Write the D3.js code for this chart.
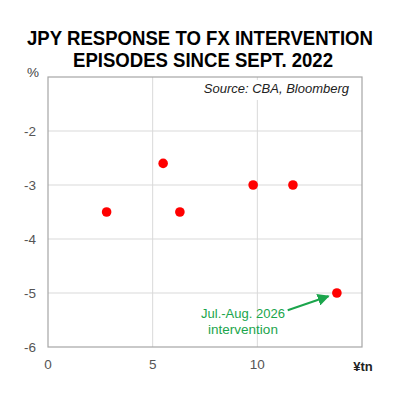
<!DOCTYPE html>
<html>
<head>
<meta charset="utf-8">
<script src="https://cdn.jsdelivr.net/npm/d3@7"></script>
<style>
  body { margin: 0; background: #fff; }
  svg { font-family: "Liberation Sans", Arial, sans-serif; }
</style>
</head>
<body>
<div id="chart"></div>
<script>
// intervention size (¥tn) vs JPY move (%)
const amounts = [2.8, 5.5, 6.3, 9.8, 11.7, 13.8];
const responses = [-3.5, -2.6, -3.5, -3.0, -3.0, -5.0];
const xTicks = [0, 5, 10];
const yTicks = [-2, -3, -4, -5, -6];

const width = 400;
const height = 400;
const margin = { top: 77, right: 38, bottom: 53, left: 48 };

const svg = d3.select('#chart')
  .append('svg')
  .attr('width', width)
  .attr('height', height);

const x = d3.scaleLinear()
  .domain([0, 15])
  .range([margin.left, width - margin.right]);

const y = d3.scaleLinear()
  .domain([-6, -1])
  .range([height - margin.bottom, margin.top]);

// title
svg.append('text')
  .attr('x', 200)
  .attr('y', 45)
  .attr('text-anchor', 'middle')
  .attr('font-size', '19.5px')
  .attr('font-weight', 'bold')
  .attr('textLength', 346)
  .attr('lengthAdjust', 'spacingAndGlyphs')
  .text('JPY RESPONSE TO FX INTERVENTION');
svg.append('text')
  .attr('x', 203)
  .attr('y', 67)
  .attr('text-anchor', 'middle')
  .attr('font-size', '19.5px')
  .attr('font-weight', 'bold')
  .attr('textLength', 260)
  .attr('lengthAdjust', 'spacingAndGlyphs')
  .text('EPISODES SINCE SEPT. 2022');

// grid
svg.append('g')
  .selectAll('line')
  .data([-2, -3, -4, -5])
  .join('line')
    .attr('x1', x(0))
    .attr('x2', x(15))
    .attr('y1', d => y(d))
    .attr('y2', d => y(d))
    .attr('stroke', '#d9d9d9');

svg.append('g')
  .selectAll('line')
  .data([5, 10])
  .join('line')
    .attr('x1', d => x(d))
    .attr('x2', d => x(d))
    .attr('y1', y(-1))
    .attr('y2', y(-6))
    .attr('stroke', '#d9d9d9');

// frame
svg.append('rect')
  .attr('x', x(0))
  .attr('y', y(-1))
  .attr('width', x(15) - x(0))
  .attr('height', y(-6) - y(-1))
  .attr('fill', 'none')
  .attr('stroke', '#a6a6a6')
  .attr('stroke-width', 1.2);

// source label with white box
svg.append('rect')
  .attr('x', 200)
  .attr('y', y(-1) + 3)
  .attr('width', x(15) - 201)
  .attr('height', 20)
  .attr('fill', '#fff');
svg.append('text')
  .attr('x', 349)
  .attr('y', 93)
  .attr('text-anchor', 'end')
  .attr('font-size', '13px')
  .attr('font-style', 'italic')
  .attr('fill', '#222')
  .text('Source: CBA, Bloomberg');

// y axis labels
svg.append('g')
  .selectAll('text')
  .data(yTicks)
  .join('text')
    .attr('x', x(0) - 12)
    .attr('y', d => y(d) + 5)
    .attr('text-anchor', 'end')
    .attr('font-size', '13.5px')
    .attr('fill', '#555')
    .text(d => d);

svg.append('text')
  .attr('x', 33)
  .attr('y', 77)
  .attr('text-anchor', 'middle')
  .attr('font-size', '13.5px')
  .attr('fill', '#444')
  .text('%');

// x axis labels
svg.append('g')
  .selectAll('text')
  .data(xTicks)
  .join('text')
    .attr('x', d => x(d))
    .attr('y', y(-6) + 22)
    .attr('text-anchor', 'middle')
    .attr('font-size', '13.5px')
    .attr('fill', '#555')
    .text(d => d);

svg.append('text')
  .attr('x', x(15) + 1)
  .attr('y', y(-6) + 24)
  .attr('text-anchor', 'middle')
  .attr('font-size', '13px')
  .attr('font-weight', 'bold')
  .attr('fill', '#222')
  .text('¥tn');

// points
svg.append('g')
  .attr('fill', '#ff0000')
  .selectAll('circle')
  .data(amounts)
  .join('circle')
    .attr('cx', d => x(d))
    .attr('cy', (d, i) => y(responses[i]))
    .attr('r', 4.8);

// annotation
const green = '#1ba54c';
svg.append('defs')
  .append('marker')
    .attr('id', 'arrow')
    .attr('viewBox', '0 0 10 10')
    .attr('refX', 9)
    .attr('refY', 5)
    .attr('markerWidth', 6)
    .attr('markerHeight', 6)
    .attr('orient', 'auto')
  .append('path')
    .attr('d', 'M0,0 L10,5 L0,10 Z')
    .attr('fill', green);

svg.append('line')
  .attr('x1', x(11.45))
  .attr('y1', y(-5.32))
  .attr('x2', x(13.4))
  .attr('y2', y(-5.06))
  .attr('stroke', green)
  .attr('stroke-width', 2)
  .attr('marker-end', 'url(#arrow)');

svg.append('text')
  .attr('x', 243)
  .attr('y', 318)
  .attr('text-anchor', 'middle')
  .attr('font-size', '13.5px')
  .attr('fill', green)
  .attr('textLength', 84)
  .attr('lengthAdjust', 'spacingAndGlyphs')
  .text('Jul.-Aug. 2026');
svg.append('text')
  .attr('x', 243)
  .attr('y', 334)
  .attr('text-anchor', 'middle')
  .attr('font-size', '13.5px')
  .attr('fill', green)
  .text('intervention');
</script>
</body>
</html>
